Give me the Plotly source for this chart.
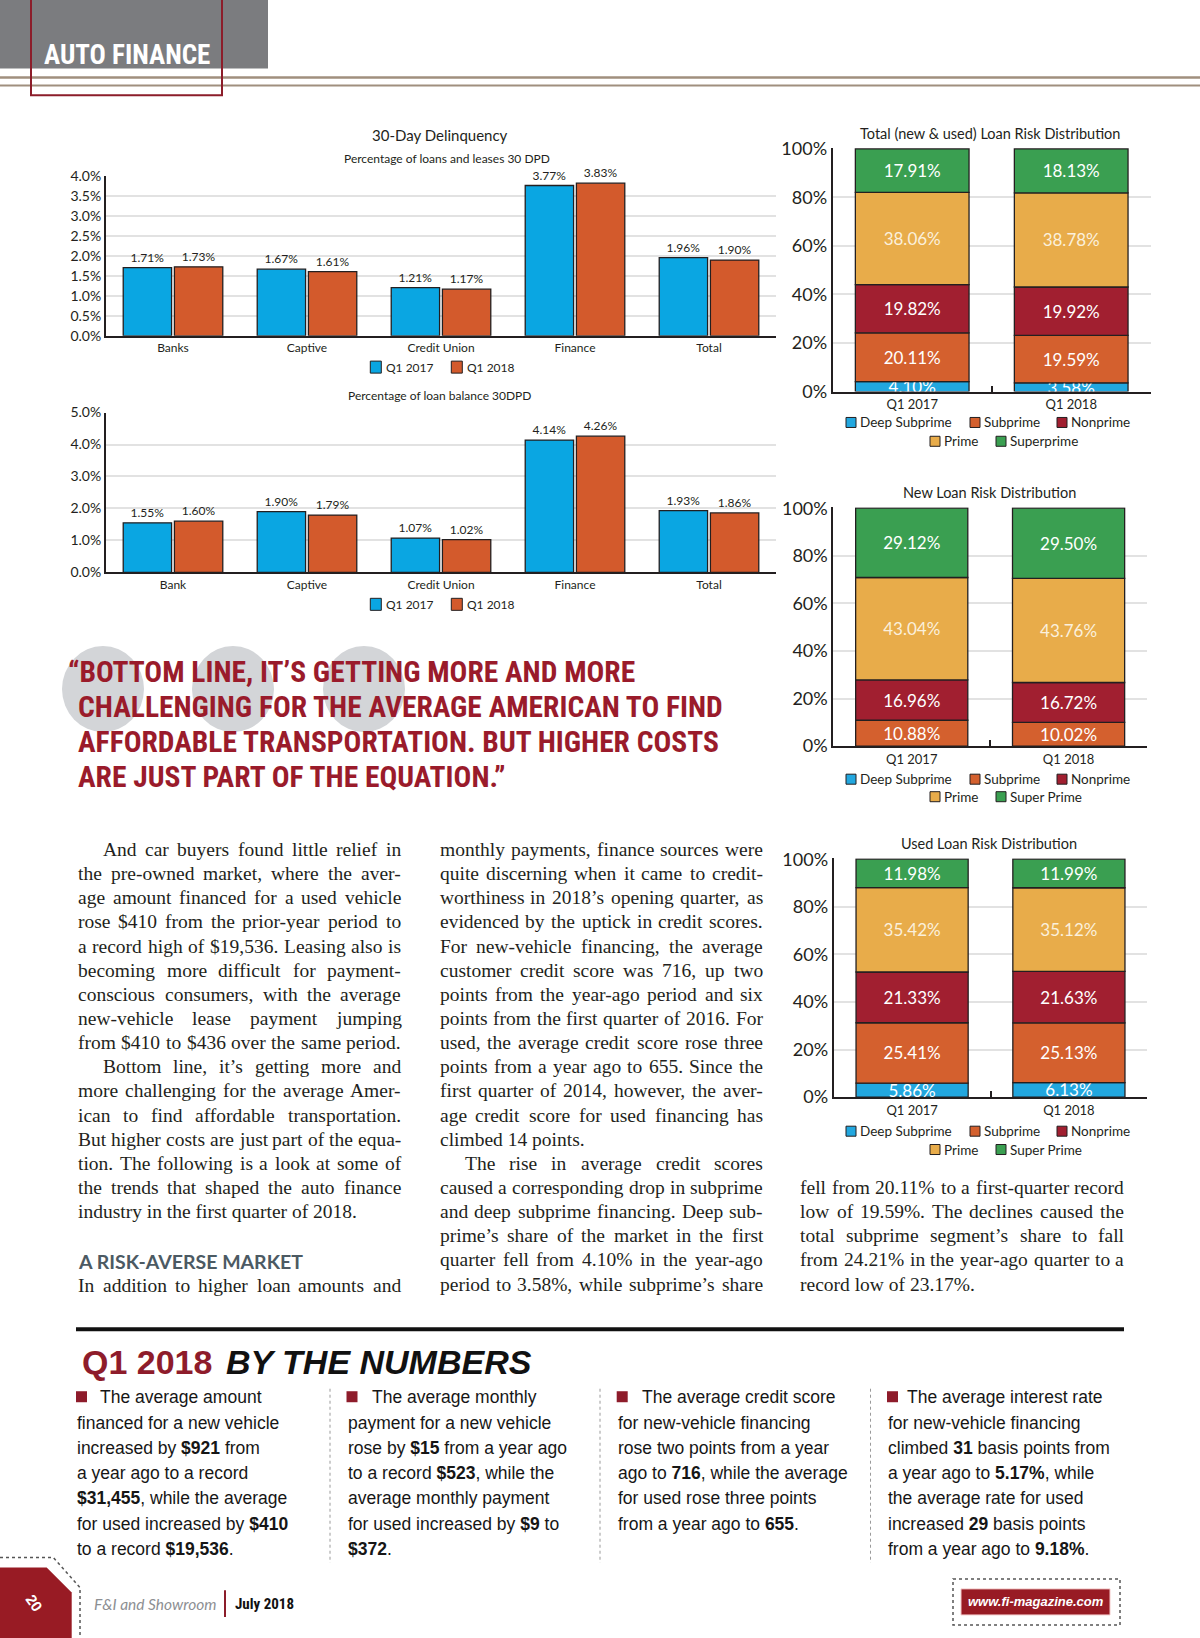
import plotly.graph_objects as go
import numpy as np

W, H = 1200, 1638

# ---------------- data ----------------
loan_categories = ["Banks", "Captive", "Credit Union", "Finance", "Total"]
loans_30dpd_q1_2017 = [1.71, 1.67, 1.21, 3.77, 1.96]
loans_30dpd_q1_2018 = [1.73, 1.61, 1.17, 3.83, 1.90]
loans_y_ticks = [0.0, 0.5, 1.0, 1.5, 2.0, 2.5, 3.0, 3.5, 4.0]

balance_categories = ["Bank", "Captive", "Credit Union", "Finance", "Total"]
balance_30dpd_q1_2017 = [1.55, 1.90, 1.07, 4.14, 1.93]
balance_30dpd_q1_2018 = [1.60, 1.79, 1.02, 4.26, 1.86]
balance_y_ticks = [0, 1, 2, 3, 4, 5]

delinquency_series = ["Q1 2017", "Q1 2018"]

periods = ["Q1 2017", "Q1 2018"]
risk_ticks = [0, 20, 40, 60, 80, 100]

total_deep_subprime = [4.10, 3.58]
total_subprime = [20.11, 19.59]
total_nonprime = [19.82, 19.92]
total_prime = [38.06, 38.78]
total_superprime = [17.91, 18.13]
total_tier_names = ["Deep Subprime", "Subprime", "Nonprime", "Prime", "Superprime"]

new_deep_subprime = [0.0, 0.0]
new_subprime = [10.88, 10.02]
new_nonprime = [16.96, 16.72]
new_prime = [43.04, 43.76]
new_superprime = [29.12, 29.50]
new_tier_names = ["Deep Subprime", "Subprime", "Nonprime", "Prime", "Super Prime"]

used_deep_subprime = [5.86, 6.13]
used_subprime = [25.41, 25.13]
used_nonprime = [21.33, 21.63]
used_prime = [35.42, 35.12]
used_superprime = [11.98, 11.99]
used_tier_names = ["Deep Subprime", "Subprime", "Nonprime", "Prime", "Super Prime"]

# ---------------- styles ----------------
DARK = "#231f20"
BLUE = "#0aa6e2"
ORANGE = "#d35a2c"
TIER_COLORS = ["#22a7df", "#d4602e", "#a11f30", "#e8ac4a", "#3a9f51"]
TIER_TEXT = ["white", "white", "white", "#fbf0dc", "white"]
GRID = "#e2e2e2"
CH = "Lato, 'Open Sans', sans-serif"
SERIF = "'Liberation Serif', serif"
SANS = "'Liberation Sans', Arial, sans-serif"
COND = "'Roboto Condensed', 'Liberation Sans', sans-serif"

# vertical calibration of the photographed page
VS, VO = 1.01389, -11.66


def px(x):
    return x / W


def py(y):
    return 1 - (VS * y + VO) / H


ann = []
shapes = []


def T(x, y, s, size, color=DARK, family=SERIF, xa="left", ya="middle", angle=0):
    ann.append(dict(x=px(x), y=py(y), xref="paper", yref="paper", text=s,
                    showarrow=False, xanchor=xa, yanchor=ya, textangle=angle, borderpad=0,
                    font=dict(family=family, size=size, color=color)))


def rect(x0, y0, x1, y1, fill=None, line=None, lw=0, dash=None, layer="above"):
    shapes.append(dict(type="rect", xref="paper", yref="paper",
                       x0=px(x0), x1=px(x1), y0=py(y0), y1=py(y1),
                       fillcolor=fill or "rgba(0,0,0,0)",
                       line=dict(color=line or "rgba(0,0,0,0)", width=lw, dash=dash),
                       layer=layer))


def seg(x0, y0, x1, y1, color, w, dash=None):
    shapes.append(dict(type="line", xref="paper", yref="paper",
                       x0=px(x0), x1=px(x1), y0=py(y0), y1=py(y1),
                       line=dict(color=color, width=w, dash=dash)))


def poly(pts, fill=None, color=None, w=0, dash=None, closed=True, layer="above"):
    d = "M " + " L ".join(f"{px(a):.5f},{py(b):.5f}" for a, b in pts)
    if closed:
        d += " Z"
    shapes.append(dict(type="path", xref="paper", yref="paper", path=d,
                       fillcolor=fill or "rgba(0,0,0,0)",
                       line=dict(color=color or "rgba(0,0,0,0)", width=w, dash=dash),
                       layer=layer))


def ellipse(cx, cy, rx, ry, fill):
    shapes.append(dict(type="circle", xref="paper", yref="paper",
                       x0=px(cx - rx), x1=px(cx + rx), y0=py(cy + ry), y1=py(cy - ry),
                       fillcolor=fill, line=dict(width=0), layer="below"))


# Times-compatible advance widths (Liberation Serif), per 1000 em
SERIF_W = {" ": 250, ",": 250, ".": 250, "-": 333, "$": 500, "%": 833, "’": 333, "'": 180,
           ":": 278, ";": 278, "(": 333, ")": 333}
for ch in "0123456789":
    SERIF_W[ch] = 500
SERIF_W.update(dict(zip("abcdefghijklmnopqrstuvwxyz",
                        [444, 500, 444, 500, 444, 333, 500, 500, 278, 278, 500, 278, 778,
                         500, 500, 500, 500, 333, 389, 278, 500, 500, 722, 500, 500, 444])))
SERIF_W.update(dict(zip("ABCDEFGHIJKLMNOPQRSTUVWXYZ",
                        [722, 667, 667, 722, 611, 556, 722, 722, 333, 389, 722, 611, 889,
                         722, 722, 556, 722, 667, 556, 611, 722, 722, 944, 722, 722, 611])))


def serif_width(s, size):
    return sum(SERIF_W.get(c, 500) for c in s) * size / 1000.0


def body_line(x0, right, y, text, size, justify=True):
    words = text.split(" ")
    if not justify or len(words) == 1:
        T(x0, y, text, size)
        return
    ws = [serif_width(w, size) for w in words]
    gap = (right - x0 - sum(ws)) / (len(words) - 1)
    x = x0
    for w, wd in zip(words, ws):
        T(x, y, w, size)
        x += wd + gap


fig = go.Figure()


# ---------------- grouped delinquency charts ----------------
def grouped(cats, v17, v18, xa, ya):
    for vals, col, name in ((v17, BLUE, delinquency_series[0]), (v18, ORANGE, delinquency_series[1])):
        fig.add_trace(go.Bar(
            x=cats, y=vals, name=name, xaxis=xa, yaxis=ya,
            marker=dict(color=col, line=dict(color=DARK, width=1.3)),
            text=[f"{v:.2f}%" for v in vals], textposition="outside",
            textangle=0, constraintext="none", cliponaxis=False,
            textfont=dict(family=CH, size=12, color=DARK), hoverinfo="skip"))


grouped(loan_categories, loans_30dpd_q1_2017, loans_30dpd_q1_2018, "x", "y")
grouped(balance_categories, balance_30dpd_q1_2017, balance_30dpd_q1_2018, "x2", "y2")


# ---------------- stacked risk charts ----------------
def stacked(tiers, xa, ya):
    base = np.zeros(len(periods))
    for i, vals in enumerate(tiers):
        vals = np.array(vals, dtype=float)
        fig.add_trace(go.Bar(
            x=periods, y=vals, base=base.copy(), xaxis=xa, yaxis=ya,
            offsetgroup="s", width=0.715, offset=-0.3575,
            marker=dict(color=TIER_COLORS[i], line=dict(color=DARK, width=1.3)),
            text=[f"{v:.2f}%" if v > 0 else "" for v in vals],
            textposition="inside", insidetextanchor="middle", textangle=0,
            constraintext="none",
            textfont=dict(family=CH, size=17, color=TIER_TEXT[i]), hoverinfo="skip"))
        base = base + vals


stacked([total_deep_subprime, total_subprime, total_nonprime, total_prime, total_superprime], "x3", "y3")
stacked([new_deep_subprime, new_subprime, new_nonprime, new_prime, new_superprime], "x4", "y4")
stacked([used_deep_subprime, used_subprime, used_nonprime, used_prime, used_superprime], "x5", "y5")

layout = dict(
    width=W, height=H, autosize=False, margin=dict(l=0, r=0, t=0, b=0),
    paper_bgcolor="white", plot_bgcolor="rgba(0,0,0,0)",
    barmode="group", bargap=0.236, bargroupgap=0.055, showlegend=False,
)

left_x = dict(type="category", range=[-0.5, 4.5], showline=True, linecolor=DARK,
              linewidth=2, ticks="", showgrid=False, fixedrange=True,
              tickfont=dict(family=CH, size=12, color=DARK))
left_y = dict(showline=True, linecolor=DARK, linewidth=2, showgrid=True, gridcolor=GRID,
              gridwidth=1.5, zeroline=False, tickmode="array",
              tickfont=dict(family=CH, size=14, color=DARK), fixedrange=True)

layout["xaxis"] = dict(left_x, domain=[px(106), px(776)], anchor="y")
layout["yaxis"] = dict(left_y, domain=[py(336), py(176.7)], anchor="x", range=[0, 4],
                       tickvals=loans_y_ticks, ticktext=[f"{v:.1f}%" for v in loans_y_ticks])
layout["xaxis2"] = dict(left_x, domain=[px(106), px(776)], anchor="y2")
layout["yaxis2"] = dict(left_y, domain=[py(572.3), py(412.7)], anchor="x2", range=[0, 5],
                        tickvals=balance_y_ticks, ticktext=[f"{v:.1f}%" for v in balance_y_ticks])

risk_x = dict(type="category", range=[-0.5, 1.5], showline=True, linecolor=DARK, linewidth=2,
              ticks="inside", tickson="boundaries", ticklen=6, tickwidth=2, tickcolor=DARK,
              showgrid=False, fixedrange=True, tickfont=dict(family=CH, size=13, color=DARK))
risk_y = dict(range=[0, 100.4], tickmode="array", tickvals=risk_ticks,
              ticktext=[f"{v}%" for v in risk_ticks], showline=True,
              linecolor=DARK, linewidth=2, showgrid=True, gridcolor=GRID, gridwidth=1.5,
              zeroline=False, fixedrange=True, tickfont=dict(family=CH, size=18, color=DARK))

layout["xaxis3"] = dict(risk_x, domain=[px(832.7), px(1150.7)], anchor="y3")
layout["yaxis3"] = dict(risk_y, domain=[py(391.7), py(148.3)], anchor="x3")
layout["xaxis4"] = dict(risk_x, domain=[px(833.3), px(1147)], anchor="y4")
layout["yaxis4"] = dict(risk_y, domain=[py(746), py(507.3)], anchor="x4")
layout["xaxis5"] = dict(risk_x, domain=[px(833.7), px(1147.3)], anchor="y5")
layout["yaxis5"] = dict(risk_y, domain=[py(1096.7), py(858)], anchor="x5")

# ---------------- chart titles / legends ----------------
T(440, 135.7, "30-Day Delinquency", 15, family=CH, xa="center")
T(447, 159.3, "Percentage of loans and leases 30 DPD", 12, family=CH, xa="center")
T(440, 395.7, "Percentage of loan balance 30DPD", 12, family=CH, xa="center")


def two_legend(y):
    for bx, col, name in ((370.3, BLUE, delinquency_series[0]), (451.3, ORANGE, delinquency_series[1])):
        rect(bx, y - 6, bx + 11, y + 6, fill=col, line=DARK, lw=1)
        T(bx + 15, y, name, 12, family=CH)


two_legend(367.3)
two_legend(604.3)

T(990, 134.3, "Total (new &amp; used) Loan Risk Distribution", 14.5, family=CH, xa="center")
T(989, 492.7, "New Loan Risk Distribution", 14.5, family=CH, xa="center")
T(989, 843.3, "Used Loan Risk Distribution", 14.5, family=CH, xa="center")


def risk_legend(y1, y2, names):
    items = [(846, y1, 0), (970, y1, 1), (1057, y1, 2), (930, y2, 3), (996, y2, 4)]
    for bx, yy, i in items:
        rect(bx, yy - 5, bx + 10, yy + 5, fill=TIER_COLORS[i], line=DARK, lw=1)
        T(bx + 13, yy, names[i], 13.5, family=CH)


risk_legend(422.6, 441.4, total_tier_names)
risk_legend(779, 796.5, new_tier_names)
risk_legend(1130.7, 1149, used_tier_names)

# ---------------- header ----------------
rect(0, -20, 268, 69, fill="#7b7c7f", layer="below")
seg(0, 78, W, 78, "#a08f7e", 2.5)
seg(0, 86, W, 86, "#a08f7e", 2)
rect(31, -20, 222, 95.7, line="#8c1d2a", lw=2)
T(127, 55, "<b>AUTO FINANCE</b>", 27, color="white", family=COND, xa="center")

# ---------------- pull quote ----------------
ellipse(103, 689, 41, 43, "#d3d5d8")
ellipse(233, 689, 41, 43, "#d3d5d8")
ellipse(364, 689, 41, 43, "#d3d5d8")
quote = [
    (67, "“BOTTOM LINE, IT’S GETTING MORE AND MORE"),
    (77, "CHALLENGING FOR THE AVERAGE AMERICAN TO FIND"),
    (77, "AFFORDABLE TRANSPORTATION. BUT HIGHER COSTS"),
    (77, "ARE JUST PART OF THE EQUATION.”"),
]
for i, (qx, s) in enumerate(quote):
    T(qx, 671.5 + 35.2 * i, f"<b>{s}</b>", 29.5, color="#9a1b2b", family=COND)

# ---------------- body text (justified columns) ----------------
Y0, P = 849.3, 24.12
BODY = 19.5
IND = 25
col1 = [
    ("And car buyers found little relief in", True, True),
    ("the pre-owned market, where the aver-", False, True),
    ("age amount financed for a used vehicle", False, True),
    ("rose $410 from the prior-year period to", False, True),
    ("a record high of $19,536. Leasing also is", False, True),
    ("becoming more difficult for payment-", False, True),
    ("conscious consumers, with the average", False, True),
    ("new-vehicle lease payment jumping", False, True),
    ("from $410 to $436 over the same period.", False, True),
    ("Bottom line, it’s getting more and", True, True),
    ("more challenging for the average Amer-", False, True),
    ("ican to find affordable transportation.", False, True),
    ("But higher costs are just part of the equa-", False, True),
    ("tion. The following is a look at some of", False, True),
    ("the trends that shaped the auto finance", False, True),
    ("industry in the first quarter of 2018.", False, False),
]
C1L, C1R = 77, 400
for i, (s, ind, just) in enumerate(col1):
    body_line(C1L + (IND if ind else 0), C1R, Y0 + P * i, s, BODY, just)
T(76.5, 1261, "<b>A RISK-AVERSE MARKET</b>", 19.5, color="#4c5a63", family=CH)
body_line(C1L, C1R, 1284.5, "In addition to higher loan amounts and", BODY, True)

col2 = [
    ("monthly payments, finance sources were", False, True),
    ("quite discerning when it came to credit-", False, True),
    ("worthiness in 2018’s opening quarter, as", False, True),
    ("evidenced by the uptick in credit scores.", False, True),
    ("For new-vehicle financing, the average", False, True),
    ("customer credit score was 716, up two", False, True),
    ("points from the year-ago period and six", False, True),
    ("points from the first quarter of 2016. For", False, True),
    ("used, the average credit score rose three", False, True),
    ("points from a year ago to 655. Since the", False, True),
    ("first quarter of 2014, however, the aver-", False, True),
    ("age credit score for used financing has", False, True),
    ("climbed 14 points.", False, False),
    ("The rise in average credit scores", True, True),
    ("caused a corresponding drop in subprime", False, True),
    ("and deep subprime financing. Deep sub-", False, True),
    ("prime’s share of the market in the first", False, True),
    ("quarter fell from 4.10% in the year-ago", False, True),
    ("period to 3.58%, while subprime’s share", False, True),
]
C2L, C2R = 438.6, 762
for i, (s, ind, just) in enumerate(col2):
    body_line(C2L + (IND if ind else 0), C2R, Y0 + P * i, s, BODY, just)

col3 = [
    ("fell from 20.11% to a first-quarter record", True),
    ("low of 19.59%. The declines caused the", True),
    ("total subprime segment’s share to fall", True),
    ("from 24.21% in the year-ago quarter to a", True),
    ("record low of 23.17%.", False),
]
C3L, C3R = 799.3, 1123
for i, (s, just) in enumerate(col3):
    body_line(C3L, C3R, Y0 + P * (14 + i), s, BODY, just)

# ---------------- by the numbers ----------------
seg(76, 1328.5, 1124, 1328.5, "#111111", 4)
T(81, 1361, "<b>Q1 2018</b>", 34, color="#8e1c2b", family=SANS)
T(225, 1361, "<b><i>BY THE NUMBERS</i></b>", 34, color="#111111", family=SANS)

bullets = [
    (76, 99, ["The average amount", "financed for a new vehicle", "increased by <b>$921</b> from",
              "a year ago to a record", "<b>$31,455</b>, while the average",
              "for used increased by <b>$410</b>", "to a record <b>$19,536</b>."]),
    (346.5, 370.5, ["The average monthly", "payment for a new vehicle", "rose by <b>$15</b> from a year ago",
                    "to a record <b>$523</b>, while the", "average monthly payment",
                    "for used increased by <b>$9</b> to", "<b>$372</b>."]),
    (616.7, 640.7, ["The average credit score", "for new-vehicle financing", "rose two points from a year",
                    "ago to <b>716</b>, while the average", "for used rose three points",
                    "from a year ago to <b>655</b>."]),
    (887, 905.8, ["The average interest rate", "for new-vehicle financing", "climbed <b>31</b> basis points from",
                  "a year ago to <b>5.17%</b>, while", "the average rate for used",
                  "increased <b>29</b> basis points", "from a year ago to <b>9.18%</b>."]),
]
BY0, BP = 1396.5, 25.25
for cx, fx, lines in bullets:
    rect(cx, BY0 - 6, cx + 11, BY0 + 5, fill="#8e1c2b")
    for i, s in enumerate(lines):
        T(fx if i == 0 else cx, BY0 + BP * i, s, 17.5, color="#161616", family=SANS)
for dx in (330, 600, 870.5):
    seg(dx, 1388, dx, 1562, "#9a9a9a", 1, dash="dot")

# ---------------- footer ----------------
poly([(0, 1566.7), (46.7, 1566.7), (71.7, 1591.7), (71.7, 1660), (0, 1660)], fill="#981b24")
poly([(0, 1556.7), (53.3, 1556.7), (80, 1586.7), (80, 1660)], color="#555555", w=1.5,
     dash="dot", closed=False)
T(34, 1601.7, "<b>20</b>", 15, color="white", family=SANS, xa="center", angle=55)
T(93.3, 1603.3, "<i>F&amp;I and Showroom</i>", 15.5, color="#8d8f93", family=CH)
seg(225, 1589.3, 225, 1616, "#8c1d2a", 2)
T(234.3, 1603, "<b>July 2018</b>", 15, color="#111111", family=COND)
rect(953, 1578, 1120, 1624, line="#555555", lw=1.5, dash="dot")
rect(961, 1588, 1110, 1614, fill="#981b24", line="#f3c9c9", lw=1)
T(1035.5, 1601, "<b><i>www.fi-magazine.com</i></b>", 13, color="white", family=SANS, xa="center")

layout["annotations"] = ann
layout["shapes"] = shapes
fig.update_layout(**layout)

pin = ("document.documentElement.style.margin='0';document.documentElement.style.padding='0';"
       "document.documentElement.style.overflow='hidden';"
       "document.body.style.margin='0';document.body.style.padding='0';document.body.style.overflow='hidden';"
       "var gd=document.getElementById('{plot_id}');gd.style.position='fixed';gd.style.left='0px';gd.style.top='0px';")
fig.write_html("out.html", config={"displayModeBar": False}, post_script=pin)
